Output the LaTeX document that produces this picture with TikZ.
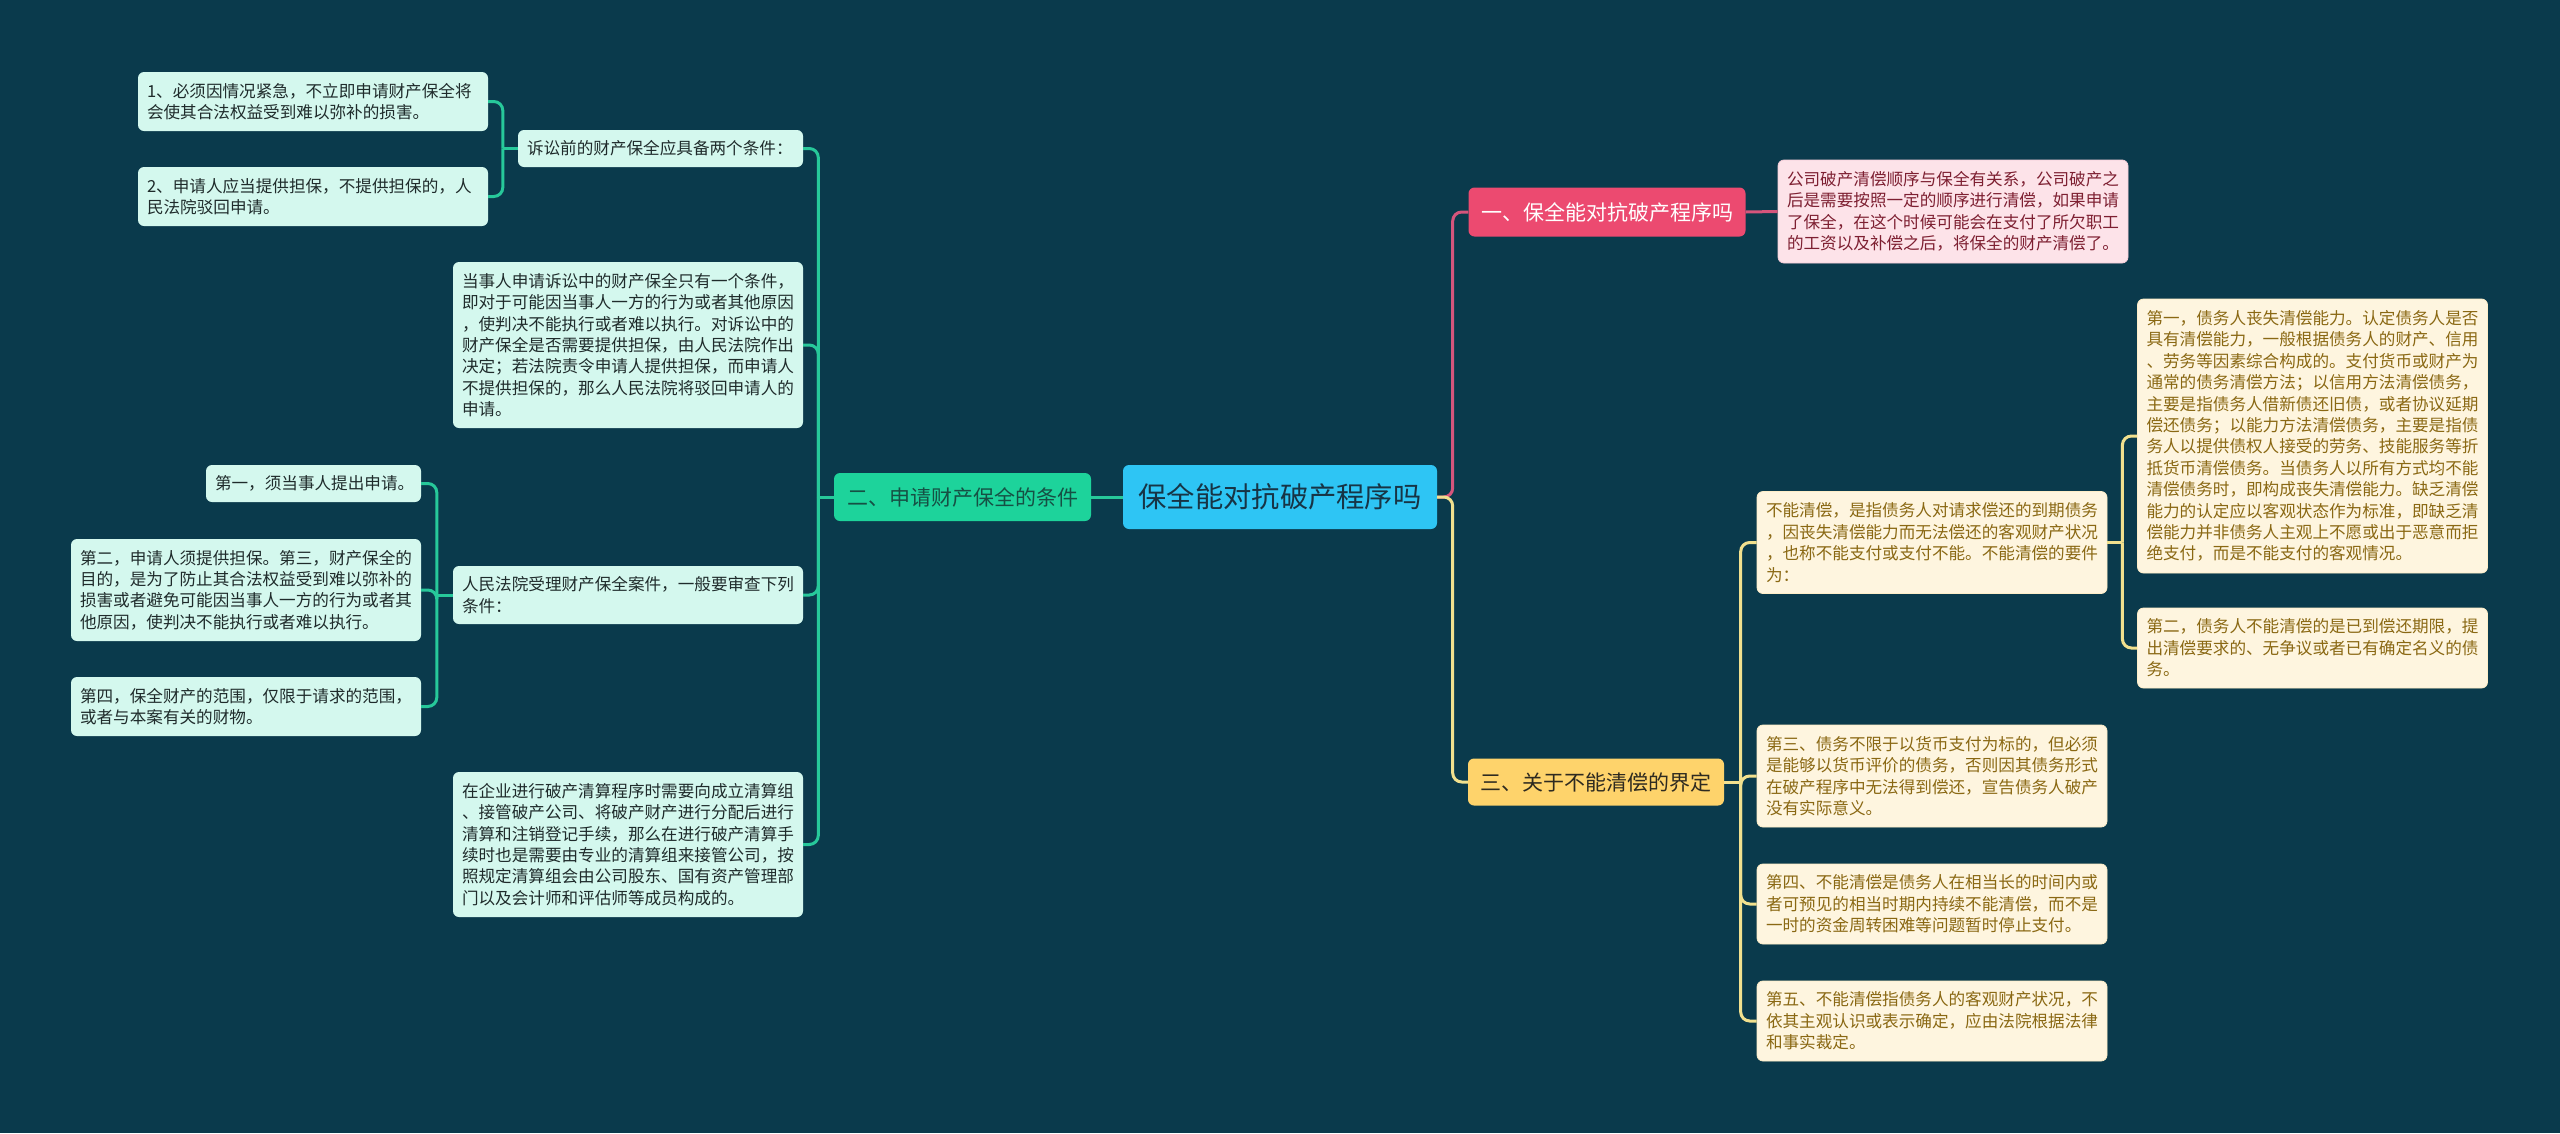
\documentclass[tikz,border=0pt]{standalone}
\usepackage{fontspec}
\setmainfont{Noto Sans CJK SC}
\usetikzlibrary{calc}
\definecolor{bg}{HTML}{0A3A4C}
\definecolor{rootfill}{HTML}{2EC5F4}
\definecolor{roottext}{HTML}{173445}
\definecolor{gfill}{HTML}{1DD39B}
\definecolor{gtext}{HTML}{165044}
\definecolor{gline}{HTML}{27C89A}
\definecolor{mint}{HTML}{D4F8EE}
\definecolor{minttext}{HTML}{1F2B2B}
\definecolor{pfill}{HTML}{EC4A70}
\definecolor{pline}{HTML}{D5557C}
\definecolor{pleaf}{HTML}{FDE3E9}
\definecolor{pleaftext}{HTML}{7D1F31}
\definecolor{yfill}{HTML}{FED36B}
\definecolor{ytext}{HTML}{2E2A20}
\definecolor{yline}{HTML}{F1E08E}
\definecolor{yleaf}{HTML}{FEF5DF}
\definecolor{yleaftext}{HTML}{8A6813}
\newcommand\leaffont{\fontsize{16.6}{21.4}\selectfont}
\newcommand\branchfont{\fontsize{21}{25}\selectfont}
\newcommand\rootfont{\fontsize{28.3}{32}\selectfont}
\begin{document}
\begin{tikzpicture}[x=1pt,y=-1pt,
  leafL/.style={fill=mint, text=minttext, rounded corners=6pt, font=\leaffont, align=left, inner xsep=9pt, inner ysep=3pt},
  leafP/.style={fill=pleaf, draw=pleaf!85!pline, line width=0.8pt, text=pleaftext, rounded corners=6pt, font=\leaffont, align=left, inner xsep=9pt, inner ysep=3pt},
  leafY/.style={fill=yleaf, draw=yleaf!80!yfill, line width=0.8pt, text=yleaftext, rounded corners=6pt, font=\leaffont, align=left, inner xsep=9pt, inner ysep=3pt},
  branchbox/.style={rounded corners=6pt, font=\branchfont, inner sep=0pt},
  glink/.style={draw=gline, line width=3pt, rounded corners=9pt},
  plink/.style={draw=pline, line width=3pt, rounded corners=9pt},
  ylink/.style={draw=yline, line width=3pt, rounded corners=9pt}]
\fill[bg] (0,0) rectangle (2560,1133);

% root and branches
\node[branchbox, fill=rootfill, text=roottext, font=\rootfont, minimum width=314pt, minimum height=64pt] (root) at (1280,497) {保全能对抗破产程序吗};
\node[branchbox, fill=gfill, text=gtext, minimum width=257pt, minimum height=48pt] (b2) at (962.5,497) {二、申请财产保全的条件};
\node[branchbox, fill=pfill, text=white, minimum width=277pt, minimum height=49pt] (b1) at (1607,212) {一、保全能对抗破产程序吗};
\node[branchbox, fill=yfill, text=ytext, minimum width=256pt, minimum height=47pt] (b3) at (1596,782) {三、关于不能清偿的界定};

% left leaves
\node[leafL, text width=267pt, minimum height=37pt] (L1) at (660.5,148.5) {诉讼前的财产保全应具备两个条件：};
\node[leafL, text width=332pt, minimum height=59pt] (L1a) at (313,101.5) {1、必须因情况紧急，不立即申请财产保全将\\会使其合法权益受到难以弥补的损害。};
\node[leafL, text width=332pt, minimum height=59pt] (L1b) at (313,196.5) {2、申请人应当提供担保，不提供担保的，人\\民法院驳回申请。};
\node[leafL, text width=332pt, minimum height=166pt] (L2) at (628,345) {当事人申请诉讼中的财产保全只有一个条件，\\即对于可能因当事人一方的行为或者其他原因\\，使判决不能执行或者难以执行。对诉讼中的\\财产保全是否需要提供担保，由人民法院作出\\决定；若法院责令申请人提供担保，而申请人\\不提供担保的，那么人民法院将驳回申请人的\\申请。};
\node[leafL, text width=332pt, minimum height=58pt] (L3) at (628,595) {人民法院受理财产保全案件，一般要审查下列\\条件：};
\node[leafL, text width=197pt, minimum height=37pt] (L3a) at (313.5,483.5) {第一，须当事人提出申请。};
\node[leafL, text width=332pt, minimum height=102pt] (L3b) at (246,590) {第二，申请人须提供担保。第三，财产保全的\\目的，是为了防止其合法权益受到难以弥补的\\损害或者避免可能因当事人一方的行为或者其\\他原因，使判决不能执行或者难以执行。};
\node[leafL, text width=332pt, minimum height=59pt] (L3c) at (246,706.5) {第四，保全财产的范围，仅限于请求的范围，\\或者与本案有关的财物。};
\node[leafL, text width=332pt, minimum height=145pt] (L4) at (628,844.5) {在企业进行破产清算程序时需要向成立清算组\\、接管破产公司、将破产财产进行分配后进行\\清算和注销登记手续，那么在进行破产清算手\\续时也是需要由专业的清算组来接管公司，按\\照规定清算组会由公司股东、国有资产管理部\\门以及会计师和评估师等成员构成的。};

% right leaves
\node[leafP, text width=332pt, minimum height=103pt] (P1) at (1953,211.5) {公司破产清偿顺序与保全有关系，公司破产之\\后是需要按照一定的顺序进行清偿，如果申请\\了保全，在这个时候可能会在支付了所欠职工\\的工资以及补偿之后，将保全的财产清偿了。};
\node[leafY, text width=332pt, minimum height=102pt] (Y1) at (1932,542.5) {不能清偿，是指债务人对请求偿还的到期债务\\，因丧失清偿能力而无法偿还的客观财产状况\\，也称不能支付或支付不能。不能清偿的要件\\为：};
\node[leafY, text width=332pt, minimum height=274pt] (Y1a) at (2312.5,436) {第一，债务人丧失清偿能力。认定债务人是否\\具有清偿能力，一般根据债务人的财产、信用\\、劳务等因素综合构成的。支付货币或财产为\\通常的债务清偿方法；以信用方法清偿债务，\\主要是指债务人借新债还旧债，或者协议延期\\偿还债务；以能力方法清偿债务，主要是指债\\务人以提供债权人接受的劳务、技能服务等折\\抵货币清偿债务。当债务人以所有方式均不能\\清偿债务时，即构成丧失清偿能力。缺乏清偿\\能力的认定应以客观状态作为标准，即缺乏清\\偿能力并非债务人主观上不愿或出于恶意而拒\\绝支付，而是不能支付的客观情况。};
\node[leafY, text width=332pt, minimum height=80pt] (Y1b) at (2312.5,648) {第二，债务人不能清偿的是已到偿还期限，提\\出清偿要求的、无争议或者已有确定名义的债\\务。};
\node[leafY, text width=332pt, minimum height=102pt] (Y2) at (1932,776) {第三、债务不限于以货币支付为标的，但必须\\是能够以货币评价的债务，否则因其债务形式\\在破产程序中无法得到偿还，宣告债务人破产\\没有实际意义。};
\node[leafY, text width=332pt, minimum height=80pt] (Y3) at (1932,904) {第四、不能清偿是债务人在相当长的时间内或\\者可预见的相当时期内持续不能清偿，而不是\\一时的资金周转困难等问题暂时停止支付。};
\node[leafY, text width=332pt, minimum height=80pt] (Y4) at (1932,1021) {第五、不能清偿指债务人的客观财产状况，不\\依其主观认识或表示确定，应由法院根据法律\\和事实裁定。};

% junction coordinates
\coordinate (mR) at ($(root.east)+(15.5,0)$);
\coordinate (m2) at ($(b2.west)+(-15.5,0)$);
\coordinate (m1) at ($(L1.west)+(-15,0)$);
\coordinate (m3) at ($(L3.west)+(-16,0)$);
\coordinate (mb1) at ($(b1.east)+(16,0)$);
\coordinate (mb3) at ($(b3.east)+(16.5,0)$);
\coordinate (mY1) at ($(Y1.east)+(15,0)$);

% connectors
\draw[glink] (root.west) -- (b2.east);
\draw[plink] (root.east) -- (mR) |- (b1.west);
\draw[ylink] (root.east) -- (mR) |- (b3.west);

\draw[glink] (b2.west) -- (m2);
\draw[glink] (m2) |- (L1.east);
\draw[glink] (m2) |- (L2.east);
\draw[glink] (m2) |- (L3.east);
\draw[glink] (m2) |- (L4.east);

\draw[glink] (L1.west) -- (m1);
\draw[glink] (m1) |- (L1a.east);
\draw[glink] (m1) |- (L1b.east);

\draw[glink] (L3.west) -- (m3);
\draw[glink] (m3) |- (L3a.east);
\draw[glink] (m3) |- (L3b.east);
\draw[glink] (m3) |- (L3c.east);

\draw[plink] (b1.east) -- (P1.west);

\draw[ylink] (b3.east) -- (mb3);
\draw[ylink] (mb3) |- (Y1.west);
\draw[ylink] (mb3) |- (Y2.west);
\draw[ylink] (mb3) |- (Y3.west);
\draw[ylink] (mb3) |- (Y4.west);

\draw[ylink] (Y1.east) -- (mY1);
\draw[ylink] (mY1) |- (Y1a.west);
\draw[ylink] (mY1) |- (Y1b.west);
\end{tikzpicture}
\end{document}
